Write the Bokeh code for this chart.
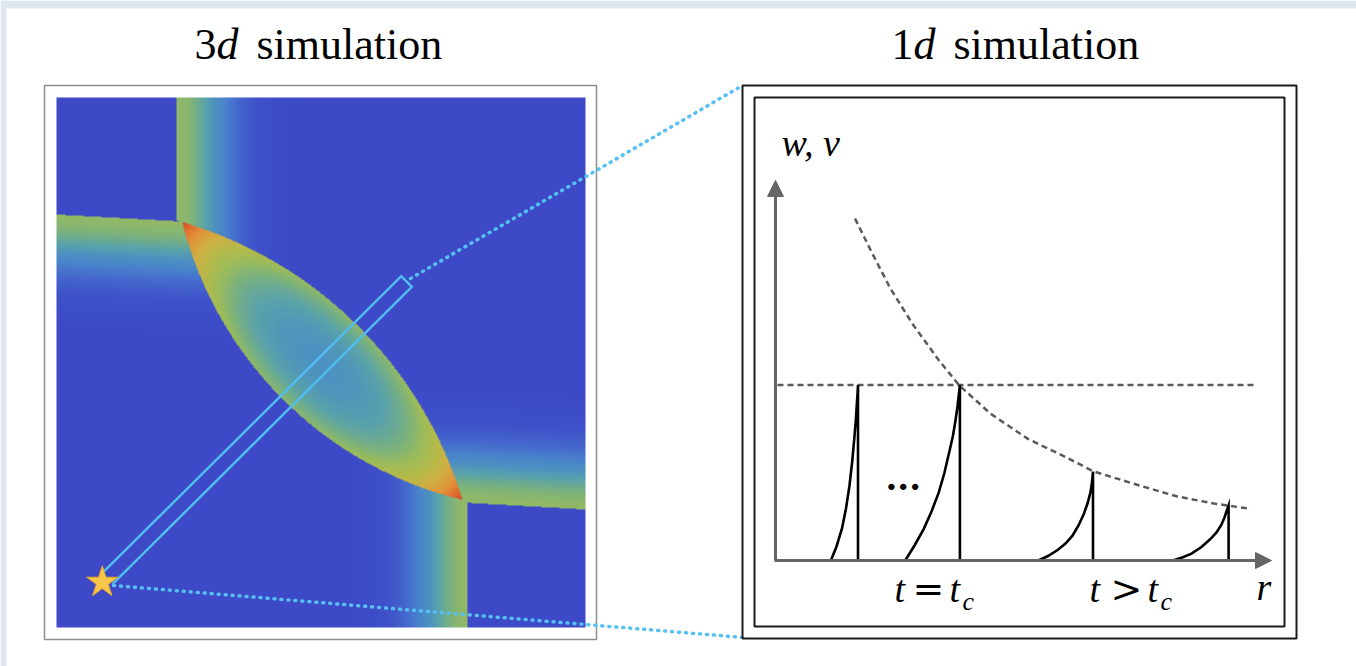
import numpy as np
from bokeh.plotting import figure
from bokeh.models import Range1d, LinearColorMapper, Arrow, NormalHead
from bokeh.core.properties import value
from bokeh.embed import file_html
from bokeh.resources import INLINE

W, H = 1356, 666


def sy(y):
    """Page pixel row (from the top) -> data y (from the bottom)."""
    return H - y


# ---------------- 1d sketch, in sketch units (r along the ray, w height) ----------------
threshold_w = 1.755
threshold_r = [0.02, 4.80]

envelope_r = [0.795, 0.963, 1.149, 1.372, 1.632, 1.836, 2.152, 2.524, 2.896,
              3.175, 3.639, 4.011, 4.383, 4.754]
envelope_w = [3.42, 3.08, 2.72, 2.363, 2.004, 1.753, 1.467, 1.216, 1.037,
              0.893, 0.75, 0.642, 0.57, 0.516]

pulse_r = [
    [0.554, 0.610, 0.665, 0.705, 0.740, 0.766, 0.788, 0.803, 0.814, 0.821, 0.825],
    [1.297, 1.390, 1.483, 1.560, 1.632, 1.690, 1.743, 1.775, 1.799, 1.820, 1.836, 1.844],
    [2.628, 2.725, 2.821, 2.900, 2.970, 3.030, 3.082, 3.120, 3.149, 3.165, 3.175],
    [3.974, 4.067, 4.160, 4.260, 4.346, 4.410, 4.458, 4.490, 4.513, 4.531],
]
pulse_w = [
    [0.0, 0.14, 0.32, 0.52, 0.75, 0.98, 1.22, 1.40, 1.574, 1.68, 1.755],
    [0.0, 0.15, 0.317, 0.49, 0.678, 0.88, 1.108, 1.25, 1.395, 1.54, 1.682, 1.755],
    [0.0, 0.045, 0.105, 0.17, 0.248, 0.35, 0.463, 0.57, 0.678, 0.78, 0.89],
    [0.0, 0.03, 0.069, 0.135, 0.212, 0.28, 0.356, 0.43, 0.50, 0.55],
]

# ---------------- 3d snapshot: fronts of the simulated field (page pixels) ----------------
field_left, field_top, field_w, field_h = 56, 97, 529, 530
lens_tip_a = (181.8, 221.6)
lens_tip_b = (461.8, 499.3)
lens_sag_outer = 50.0      # bulge of the arc facing up-right
lens_sag_inner = 55.0      # bulge of the arc facing down-left
front_top_x = 176.0
front_left_y = [214.0, 221.0]
front_right_y = [502.0, 509.0]
front_bottom_x = 467.0
front_level = 0.58
wake_len = 60.0
lens_decay = 55.0

color_stops = [
    (0.00, "#3d49c7"), (0.10, "#3e52c9"), (0.20, "#4468cd"), (0.30, "#4a82cb"),
    (0.38, "#4c90c2"), (0.46, "#5aa2aa"), (0.54, "#7bb27c"), (0.60, "#9abb5c"),
    (0.68, "#b5ba4a"), (0.76, "#d0b042"), (0.85, "#e2913a"), (0.93, "#e06a2e"),
    (1.00, "#d8402a"),
]


def hex_rgb(h):
    return [int(h[i:i + 2], 16) for i in (1, 3, 5)]


stop_pos = np.array([s[0] for s in color_stops])
stop_rgb = np.array([hex_rgb(s[1]) for s in color_stops], dtype=float)
ramp = np.linspace(0, 1, 256)
palette = ["#%02x%02x%02x" % tuple(int(round(np.interp(t, stop_pos, stop_rgb[:, k])))
                                   for k in range(3)) for t in ramp]

# two circular fronts crossing at the lens tips
ax, ay = lens_tip_a
bx, by = lens_tip_b
mx, my = (ax + bx) / 2, (ay + by) / 2
half = np.hypot(bx - ax, by - ay) / 2
ux, uy = (bx - ax) / (2 * half), (by - ay) / (2 * half)
nx, ny = uy, -ux
R1 = (half ** 2 + lens_sag_outer ** 2) / (2 * lens_sag_outer)
C1 = (mx - (R1 - lens_sag_outer) * nx, my - (R1 - lens_sag_outer) * ny)
R2 = (half ** 2 + lens_sag_inner ** 2) / (2 * lens_sag_inner)
C2 = (mx + (R2 - lens_sag_inner) * nx, my + (R2 - lens_sag_inner) * ny)

xs = field_left + 0.5 + np.arange(field_w)
ys = field_top + 0.5 + np.arange(field_h)
X, Y = np.meshgrid(xs, ys)
d1 = R1 - np.hypot(X - C1[0], Y - C1[1])
d2 = R2 - np.hypot(X - C2[0], Y - C2[1])
in1, in2 = d1 > 0, d2 > 0


def wake(d):
    return front_level * np.exp(-(np.clip(d, 0, None) / wake_len) ** 2)


field = np.zeros_like(X)
lens = in1 & in2
field = np.where(lens, 0.5 * np.exp(-d1 / lens_decay) + 0.5 * np.exp(-d2 / lens_decay), field)

band = (X >= front_top_x) & ~in1
field = np.where(band, np.maximum(field, wake(X - front_top_x)), field)

yl = np.interp(X, [field_left, ax], front_left_y)
band = (Y >= yl) & ~in2
field = np.where(band, np.maximum(field, wake(Y - yl)), field)

yr = np.interp(X, [bx, field_left + field_w], front_right_y)
band = (Y <= yr) & ~in1
field = np.where(band, np.maximum(field, wake(yr - Y)), field)

band = (X <= front_bottom_x) & ~in2
field = np.where(band, np.maximum(field, wake(front_bottom_x - X)), field)

field = np.clip(field, 0, 1).astype(np.float32)

# ---------------- figure ----------------
p = figure(width=W, height=H, x_range=Range1d(0, W), y_range=Range1d(0, H),
           output_backend="svg", toolbar_location=None,
           x_axis_location=None, y_axis_location=None,
           min_border=0, outline_line_color=None)
p.grid.visible = False
p.background_fill_color = "white"
p.border_fill_color = "white"

# sketch coordinates: 100 px per unit, origin at the axes' corner
p.extra_x_ranges = {"r": Range1d(-7.75, -7.75 + W / 100)}
p.extra_y_ranges = {"w": Range1d(-1.06, -1.06 + H / 100)}

# page edge tint
p.quad(left=[0, 0], right=[W, 6], bottom=[sy(8), 0], top=[H, H],
       fill_color="#dfe6f0", line_color=None)

# ---- left panel ----
p.quad(left=[44], right=[596], bottom=[sy(639)], top=[sy(85)],
       fill_color="white", line_color="#8e8e8e", line_width=1.5)

mapper = LinearColorMapper(palette=palette, low=0, high=1)
p.image(image=[field[::-1]], x=field_left, y=sy(field_top + field_h),
        dw=field_w, dh=field_h, color_mapper=mapper)

# probe strip along the ray from the source
probe_x = [107.0, 406.0]
probe_y = [578.0, 281.0]
dx, dy = probe_x[1] - probe_x[0], probe_y[1] - probe_y[0]
L = np.hypot(dx, dy)
px_, py_ = -dy / L * 7.5, dx / L * 7.5
strip_x = [probe_x[0] - px_, probe_x[1] - px_, probe_x[1] + px_, probe_x[0] + px_]
strip_y = [probe_y[0] - py_, probe_y[1] - py_, probe_y[1] + py_, probe_y[0] + py_]
p.line(strip_x, [sy(v) for v in strip_y], line_color="#4fbdf0", line_width=2.5,
       line_join="miter")

# zoom guides
p.line([410, 742], [sy(278), sy(85)], line_color="#55c0f2", line_width=3.5,
       line_dash="1 6", line_cap="round")
p.line([113, 743], [sy(585), sy(637)], line_color="#55c0f2", line_width=3.5,
       line_dash="1 6", line_cap="round")

p.scatter(x=[101.8], y=[sy(581.8)], marker="star", size=33,
          fill_color="#f8c74a", line_color="#e6a42c", line_width=1)

# ---- right panel ----
p.quad(left=[742], right=[1296], bottom=[sy(638)], top=[sy(85)],
       fill_color=None, line_color="#1a1a1a", line_width=2)
p.quad(left=[754], right=[1284], bottom=[sy(626)], top=[sy(97)],
       fill_color=None, line_color="#1a1a1a", line_width=2)

axis_col = "#666666"
p.add_layout(Arrow(end=NormalHead(size=16, fill_color=axis_col, line_color=axis_col),
                   x_start=775, y_start=sy(560), x_end=775, y_end=sy(180),
                   line_color=axis_col, line_width=3))
p.add_layout(Arrow(end=NormalHead(size=16, fill_color=axis_col, line_color=axis_col),
                   x_start=774, y_start=sy(560), x_end=1271, y_end=sy(560),
                   line_color=axis_col, line_width=3))

dash_col = "#5a5a5a"
p.line(threshold_r, [threshold_w, threshold_w], x_range_name="r", y_range_name="w",
       line_color=dash_col, line_width=2.5, line_dash="6 4")
p.line(envelope_r, envelope_w, x_range_name="r", y_range_name="w",
       line_color=dash_col, line_width=2.5, line_dash="6 4")

for rr, ww in zip(pulse_r, pulse_w):
    p.line(rr + [rr[-1]], ww + [0.0], x_range_name="r", y_range_name="w",
           line_color="black", line_width=2.6, line_join="miter")

serif = value("'Liberation Serif', 'Times New Roman', serif")
math_font = value("'DejaVu Serif', serif")


def label(x, y, s, size, italic=False, font=serif, bold=False):
    # the baseline sits about 0.38 em above where the glyph call anchors it
    style = "italic" if italic else ("bold" if bold else "normal")
    p.text(x=[x], y=[sy(y - 0.38 * size)], text=[s], text_font=font,
           text_font_size=f"{size}px", text_font_style=style,
           text_baseline="alphabetic", text_color="black")


# titles
label(194, 61, "3", 44)
label(216, 61, "d", 44, italic=True)
label(256, 61, "simulation", 44)
label(891, 61, "1", 44)
label(913, 61, "d", 44, italic=True)
label(953, 61, "simulation", 44)

# sketch labels
label(781, 157, "w, v", 38, italic=True)
label(1256, 601, "r", 38, italic=True)
label(885, 490, "...", 34, font=math_font, bold=True)

for tx, op, opx in [(894, "=", 912), (1089, ">", 1110)]:
    label(tx, 603, "t", 38, italic=True)
    label(opx, 603, op, 38, font=math_font)
    label(opx + 37, 603, "t", 38, italic=True)
    label(opx + 50, 611, "c", 26, italic=True)

open("out.html", "w").write(file_html(p, INLINE))
